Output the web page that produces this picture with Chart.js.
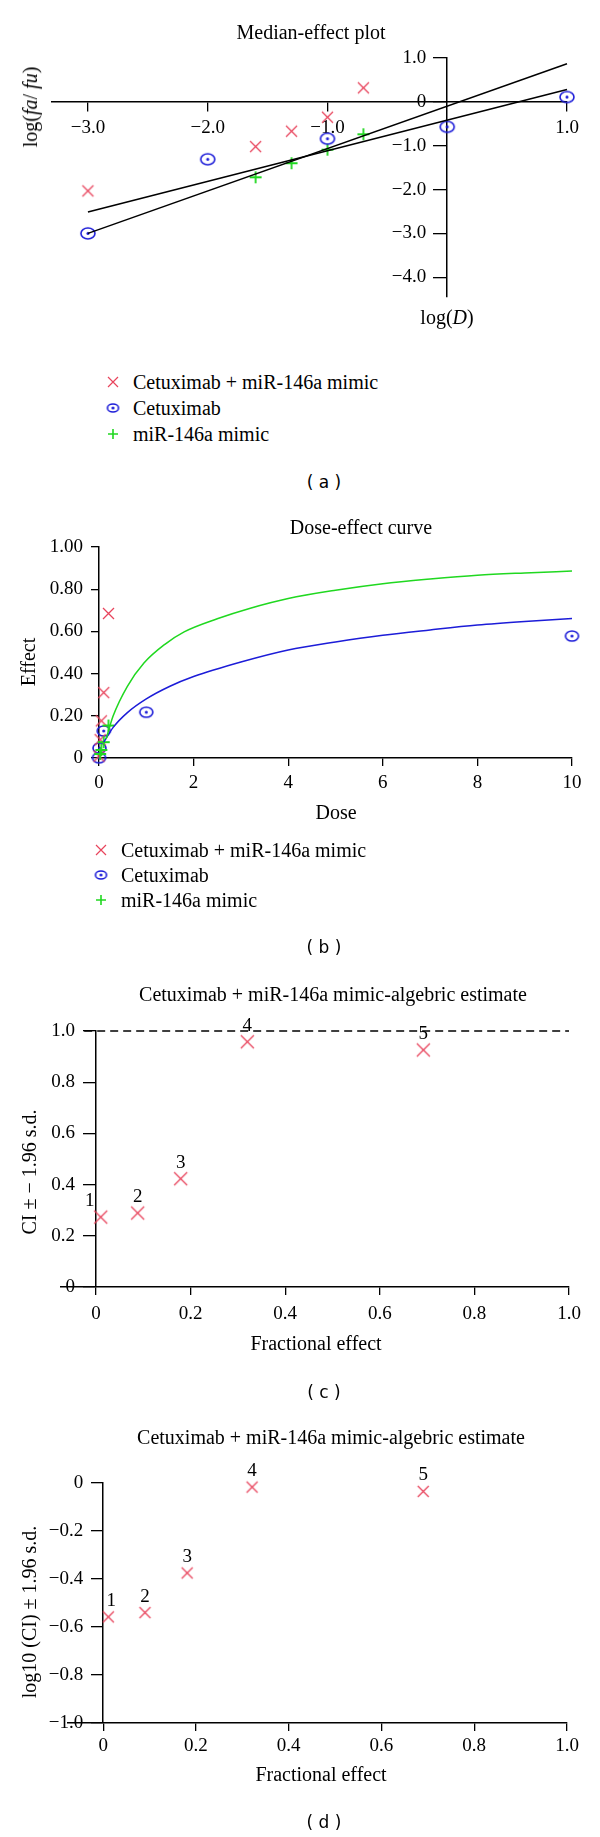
<!DOCTYPE html>
<html>
<head>
<meta charset="utf-8">
<script src="https://cdn.jsdelivr.net/npm/chart.js@4.4.1/dist/chart.umd.min.js"></script>
<style>
    body { margin: 0; background: #fff; }
    #page { position: relative; width: 600px; height: 1837px; overflow: hidden; font-family: 'Liberation Serif', 'Times New Roman', serif; color: #000; }
    #page canvas.panel { position: absolute; left: 0; }
    .t { position: absolute; white-space: nowrap; font-size: 20px; line-height: 1; transform: translate(-50%, -50%); }
    .rot { transform: translate(-50%, -50%) rotate(-90deg); }
    .cap { font-family: 'DejaVu Sans', sans-serif; font-size: 17px; }
    .lg { position: absolute; white-space: nowrap; font-size: 20px; line-height: 1; transform: translate(0, -50%); }
    .mk { position: absolute; transform: translate(-50%, -50%); }
</style>
</head>
<body>
<div id="page">
    <canvas id="median-effect" class="panel" width="600" height="340" style="top:0px"></canvas>
    <canvas id="dose-effect" class="panel" width="600" height="320" style="top:500px"></canvas>
    <canvas id="ci-plot" class="panel" width="600" height="400" style="top:1000px"></canvas>
    <canvas id="log-ci-plot" class="panel" width="600" height="417" style="top:1420px"></canvas>

    <div class="t" style="left:311px;top:32px">Median-effect plot</div>
    <div class="t rot" style="left:30px;top:107px">log(<i>fa</i>/ <i>fu</i>)</div>
    <div class="t" style="left:447px;top:317px">log(<i>D</i>)</div>
    <div class="t cap" style="left:324px;top:482px">( a )</div>

    <div class="t" style="left:361px;top:527px">Dose-effect curve</div>
    <div class="t rot" style="left:28px;top:662px">Effect</div>
    <div class="t" style="left:336px;top:812px">Dose</div>
    <div class="t cap" style="left:324px;top:947px">( b )</div>

    <div class="t" style="left:333px;top:994px">Cetuximab + miR-146a mimic-algebric estimate</div>
    <div class="t rot" style="left:29px;top:1172px">CI ± − 1.96 s.d.</div>
    <div class="t" style="left:316px;top:1343px">Fractional effect</div>
    <div class="t cap" style="left:324px;top:1392px">( c )</div>

    <div class="t" style="left:331px;top:1437px">Cetuximab + miR-146a mimic-algebric estimate</div>
    <div class="t rot" style="left:29px;top:1612px">log10 (CI) ± 1.96 s.d.</div>
    <div class="t" style="left:321px;top:1774px">Fractional effect</div>
    <div class="t cap" style="left:324px;top:1822px">( d )</div>
</div>

<script>
// ---- data: (a) median-effect plot ----
const seriesNames = ['Cetuximab + miR-146a mimic', 'Cetuximab', 'miR-146a mimic'];

const comboLogD = [-3.0, -1.6, -1.3, -1.0, -0.7];
const comboLogFa = [-2.03, -1.02, -0.67, -0.35, 0.32];
const cetuxLogD = [-3.0, -2.0, -1.0, 0.0, 1.0];
const cetuxLogFa = [-3.0, -1.31, -0.84, -0.57, 0.11];
const mimicLogD = [-1.6, -1.3, -1.0, -0.7];
const mimicLogFa = [-1.72, -1.40, -1.09, -0.74];
const fitLineALogD = [-3.0, 1.0];
const fitLineALogFa = [-2.51, 0.28];
const fitLineBLogD = [-3.0, 1.0];
const fitLineBLogFa = [-3.0, 0.87];

const medXTicks = [-3, -2, -1, 1];
const medXTickLabels = ['−3.0', '−2.0', '−1.0', '1.0'];
const medYTicks = [1, 0, -1, -2, -3, -4];
const medYTickLabels = ['1.0', '0', '−1.0', '−2.0', '−3.0', '−4.0'];

// ---- data: (b) dose-effect curve ----
const comboDose = [0.001, 0.025, 0.05, 0.1, 0.2];
const comboEffect = [0.009, 0.087, 0.176, 0.31, 0.685];
const cetuxDose = [0.001, 0.01, 0.1, 1, 10];
const cetuxEffect = [0.001, 0.047, 0.128, 0.217, 0.578];
const mimicDose = [0.025, 0.05, 0.1, 0.2];
const mimicEffect = [0.019, 0.038, 0.075, 0.154];

const mimicCurveDose = [0.15, 0.3, 0.6, 0.95, 1.4, 1.8, 2.5, 3.2, 4, 5, 6, 7, 8, 9, 10];
const mimicCurveEffect = [0.09, 0.2, 0.34, 0.45, 0.54, 0.598, 0.66, 0.71, 0.756, 0.795, 0.826, 0.848, 0.866, 0.877, 0.886];
const cetuxCurveDose = [0.1, 0.3, 0.6, 1.0, 1.5, 2, 3, 4, 5, 6, 7, 8, 9, 10];
const cetuxCurveEffect = [0.075, 0.145, 0.215, 0.28, 0.34, 0.386, 0.455, 0.512, 0.55, 0.582, 0.607, 0.63, 0.647, 0.661];

const doseXTicks = [0, 2, 4, 6, 8, 10];
const doseXTickLabels = ['0', '2', '4', '6', '8', '10'];
const doseYTicks = [0, 0.2, 0.4, 0.6, 0.8, 1.0];
const doseYTickLabels = ['0', '0.20', '0.40', '0.60', '0.80', '1.00'];

// ---- data: (c) CI and (d) log10(CI) ----
const ciPointNames = ['1', '2', '3', '4', '5'];
const ciFa = [0.01, 0.088, 0.179, 0.32, 0.692];
const ciValue = [0.273, 0.289, 0.423, 0.958, 0.926];
const ciRefX = [-0.025, 1.0];
const ciRefY = [1.0, 1.0];
const logCiFa = [0.011, 0.09, 0.181, 0.321, 0.69];
const logCiValue = [-0.558, -0.54, -0.375, -0.017, -0.035];

const faTicks = [0, 0.2, 0.4, 0.6, 0.8, 1.0];
const faTickLabels = ['0', '0.2', '0.4', '0.6', '0.8', '1.0'];
const ciYTicks = [0, 0.2, 0.4, 0.6, 0.8, 1.0];
const ciYTickLabels = ['0', '0.2', '0.4', '0.6', '0.8', '1.0'];
const logCiYTicks = [0, -0.2, -0.4, -0.6, -0.8, -1.0];
const logCiYTickLabels = ['0', '−0.2', '−0.4', '−0.6', '−0.8', '−1.0'];

// ---- colours ----
const RED = '#e8445c';
const BLUE = '#1c1cd8';
const GREEN = '#20d820';
const serif = "'Liberation Serif', 'Times New Roman', serif";

Chart.defaults.font.family = serif;
Chart.defaults.color = '#000';

// marker images, used both on the charts and in the legends
function crossMark(size, color, lw) {
    const c = document.createElement('canvas');
    c.width = size + 4; c.height = size + 4;
    const g = c.getContext('2d');
    g.strokeStyle = color; g.lineWidth = lw;
    g.beginPath();
    g.moveTo(2, 2); g.lineTo(size + 2, size + 2);
    g.moveTo(size + 2, 2); g.lineTo(2, size + 2);
    g.stroke();
    return c;
}
function plusMark(size, color, lw) {
    const c = document.createElement('canvas');
    c.width = size + 4; c.height = size + 4;
    const g = c.getContext('2d');
    const m = c.width / 2;
    g.strokeStyle = color; g.lineWidth = lw;
    g.beginPath();
    g.moveTo(2, m); g.lineTo(size + 2, m);
    g.moveTo(m, 2); g.lineTo(m, size + 2);
    g.stroke();
    return c;
}
function ringDotMark(w, h, color) {
    const c = document.createElement('canvas');
    c.width = w + 4; c.height = h + 4;
    const g = c.getContext('2d');
    g.strokeStyle = color; g.lineWidth = 1.6;
    g.beginPath();
    g.ellipse(c.width / 2, c.height / 2, w / 2, h / 2, 0, 0, Math.PI * 2);
    g.stroke();
    g.fillStyle = color;
    g.beginPath();
    g.arc(c.width / 2, c.height / 2, 1.5, 0, Math.PI * 2);
    g.fill();
    return c;
}

const redX = crossMark(11, RED, 1.3);
const blueRing = ringDotMark(14, 11, BLUE);
const blueRingSmall = ringDotMark(13, 10, BLUE);
const greenPlus = plusMark(12, GREEN, 1.8);

function pts(xs, ys) {
    return xs.map((x, i) => ({ x: x, y: ys[i] }));
}

function markerSet(label, xs, ys, img) {
    return { label: label, data: pts(xs, ys), pointStyle: img, pointRadius: 7, showLine: false, clip: false };
}

function lineSet(xs, ys, color, extra) {
    return Object.assign({ data: pts(xs, ys), showLine: true, borderColor: color, borderWidth: 1.5,
        pointRadius: 0, fill: false, clip: false }, extra || {});
}

// linear axis with fixed ticks, no grid, black border; box size forced to `size`
function fixedAxis(ticksArr, labelsArr, min, max, position, tickLength, padding, size) {
    return {
        type: 'linear',
        position: position,
        min: min,
        max: max,
        bounds: 'data',
        afterBuildTicks: (s) => { s.ticks = ticksArr.map(v => ({ value: v })); },
        afterFit: (s) => { if (s.isHorizontal()) s.height = size; else s.width = size; },
        ticks: {
            font: { size: 19 }, color: '#000', padding: padding, autoSkip: false, maxRotation: 0,
            callback: (v, i) => labelsArr[i]
        },
        grid: { drawOnChartArea: false, drawTicks: true, tickLength: tickLength, color: '#000', lineWidth: 1.3 },
        border: { display: true, color: '#000', width: 1.5 }
    };
}

// a y axis placed at x = value puts its labels right on the line; move them off by tick + padding
const crossedAxisLabels = {
    id: 'crossedAxisLabels',
    beforeDraw(chart) {
        Object.values(chart.scales).forEach(s => {
            const pos = s.options.position;
            if (s.isHorizontal() || typeof pos !== 'object') return;
            const items = s.getLabelItems(chart.chartArea);
            if (items._moved) return;
            const gap = s.options.grid.tickLength + s.options.ticks.padding;
            items.forEach(it => { it.options.translation[0] -= gap; });
            items._moved = true;
        });
    }
};

// numbers written above the points of one dataset
const pointNumbers = {
    id: 'pointNumbers',
    afterDatasetsDraw(chart, args, opts) {
        if (!opts.names) return;
        const meta = chart.getDatasetMeta(opts.dataset);
        const ctx = chart.ctx;
        ctx.save();
        ctx.font = '19px ' + serif;
        ctx.fillStyle = '#000';
        ctx.textAlign = 'center';
        ctx.textBaseline = 'middle';
        meta.data.forEach((pt, i) => {
            ctx.fillText(opts.names[i], pt.x + (opts.shift[i] || 0), pt.y + opts.dy);
        });
        ctx.restore();
    }
};

function makeChart(id, pad, datasets, scales, numbers) {
    return new Chart(document.getElementById(id).getContext('2d'), {
        type: 'scatter',
        data: { datasets: datasets },
        options: {
            responsive: false,
            animation: false,
            devicePixelRatio: 1,
            layout: { padding: pad },
            scales: scales,
            plugins: {
                legend: { display: false },
                title: { display: false },
                tooltip: { enabled: false },
                pointNumbers: numbers || {}
            }
        },
        plugins: [crossedAxisLabels, pointNumbers]
    });
}

// (a) median-effect plot
makeChart('median-effect', { left: 52, right: 33, top: 58, bottom: 43 }, [
    lineSet(fitLineALogD, fitLineALogFa, '#000'),
    lineSet(fitLineBLogD, fitLineBLogFa, '#000'),
    markerSet(seriesNames[0], comboLogD, comboLogFa, redX),
    markerSet(seriesNames[1], cetuxLogD, cetuxLogFa, blueRing),
    markerSet(seriesNames[2], mimicLogD, mimicLogFa, greenPlus)
], {
    x: fixedAxis(medXTicks, medXTickLabels, -3.3, 1.0, { y: 0 }, 9, 6, 0),
    y: fixedAxis(medYTicks, medYTickLabels, -4.45, 1.0, { x: 0 }, 13, 8, 0)
});

// (b) dose-effect curve
makeChart('dose-effect', { left: 9, right: 28, top: 47, bottom: 17 }, [
    lineSet(mimicCurveDose, mimicCurveEffect, GREEN, { cubicInterpolationMode: 'monotone' }),
    lineSet(cetuxCurveDose, cetuxCurveEffect, BLUE, { cubicInterpolationMode: 'monotone' }),
    markerSet(seriesNames[2], mimicDose, mimicEffect, greenPlus),
    markerSet(seriesNames[0], comboDose, comboEffect, redX),
    markerSet(seriesNames[1], cetuxDose, cetuxEffect, blueRingSmall)
], {
    x: fixedAxis(doseXTicks, doseXTickLabels, 0, 10, 'bottom', 8, 6, 45),
    y: fixedAxis(doseYTicks, doseYTickLabels, 0, 1.0, 'left', 8, 8, 90)
});

// (c) CI vs fractional effect
makeChart('ci-plot', { left: 61, right: 31, top: 31, bottom: 68 }, [
    lineSet(ciRefX, ciRefY, '#000', { borderDash: [8, 5], borderWidth: 1.4 }),
    markerSet(seriesNames[0], ciFa, ciValue, crossMark(13, RED, 1.3))
], {
    x: fixedAxis(faTicks, faTickLabels, -0.074, 1.0, 'bottom', 8, 8, 45),
    y: fixedAxis(ciYTicks, ciYTickLabels, 0, 1.0, { x: 0 }, 12, 9, 0)
}, { dataset: 1, names: ciPointNames, dy: -16, shift: [-11, 0, 0, 0, 0] });

// (d) log10(CI) vs fractional effect
makeChart('log-ci-plot', { left: 68, right: 33, top: 63, bottom: 69 }, [
    markerSet(seriesNames[0], logCiFa, logCiValue, crossMark(11, RED, 1.3))
], {
    x: fixedAxis(faTicks, faTickLabels, -0.076, 1.0, 'bottom', 8, 4, 45),
    y: fixedAxis(logCiYTicks, logCiYTickLabels, -1.0, 0, { x: 0 }, 11, 9, 0)
}, { dataset: 0, names: ciPointNames, dy: -16, shift: [3, 0, 0, 0, 0] });

// legends for (a) and (b)
function addLegend(markerX, textX, rowsY, marks) {
    const page = document.getElementById('page');
    seriesNames.forEach((name, i) => {
        const mk = marks[i];
        mk.className = 'mk';
        mk.style.left = markerX + 'px';
        mk.style.top = rowsY[i] + 'px';
        page.appendChild(mk);
        const t = document.createElement('div');
        t.className = 'lg';
        t.style.left = textX + 'px';
        t.style.top = rowsY[i] + 'px';
        t.textContent = name;
        page.appendChild(t);
    });
}
addLegend(112.5, 133, [382, 408, 434], [crossMark(10, RED, 1.2), ringDotMark(11, 8, BLUE), plusMark(10, GREEN, 1.6)]);
addLegend(101, 121, [850, 875, 900], [crossMark(10, RED, 1.2), ringDotMark(11, 8, BLUE), plusMark(10, GREEN, 1.6)]);
</script>
</body>
</html>
